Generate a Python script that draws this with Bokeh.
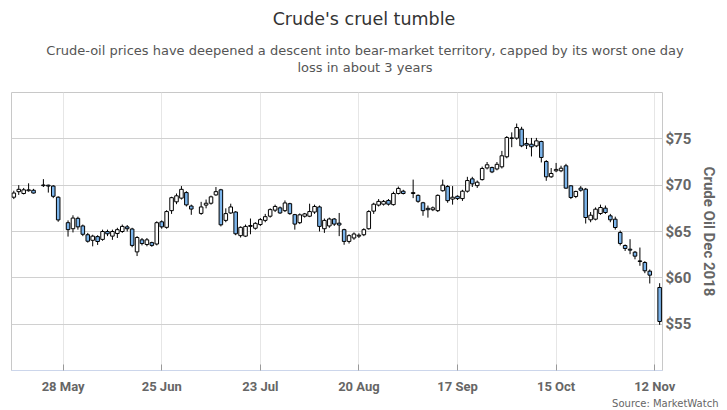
import numpy as np
from bokeh.plotting import figure
from bokeh.layouts import column
from bokeh.models import ColumnDataSource, Range1d, FixedTicker, NumeralTickFormatter
from bokeh.core.properties import value
from bokeh.embed import file_html
from bokeh.resources import INLINE

dates = ["2018-05-14", "2018-05-15", "2018-05-16", "2018-05-17", "2018-05-18",
         "2018-05-22", "2018-05-23", "2018-05-24", "2018-05-25",
         "2018-05-29", "2018-05-30", "2018-05-31", "2018-06-01",
         "2018-06-04", "2018-06-05", "2018-06-06", "2018-06-07", "2018-06-08",
         "2018-06-11", "2018-06-12", "2018-06-13", "2018-06-14", "2018-06-15",
         "2018-06-18", "2018-06-19", "2018-06-20", "2018-06-21", "2018-06-22",
         "2018-06-25", "2018-06-26", "2018-06-27", "2018-06-28", "2018-06-29",
         "2018-07-02", "2018-07-03", "2018-07-05", "2018-07-06",
         "2018-07-09", "2018-07-10", "2018-07-11", "2018-07-12", "2018-07-13",
         "2018-07-16", "2018-07-17", "2018-07-18", "2018-07-19", "2018-07-20",
         "2018-07-23", "2018-07-24", "2018-07-25", "2018-07-26", "2018-07-27",
         "2018-07-30", "2018-07-31", "2018-08-01", "2018-08-02", "2018-08-03",
         "2018-08-06", "2018-08-07", "2018-08-08", "2018-08-09", "2018-08-10",
         "2018-08-13", "2018-08-14", "2018-08-15", "2018-08-16", "2018-08-17",
         "2018-08-20", "2018-08-21", "2018-08-22", "2018-08-23", "2018-08-24",
         "2018-08-27", "2018-08-28", "2018-08-29", "2018-08-30", "2018-08-31",
         "2018-09-04", "2018-09-05", "2018-09-06", "2018-09-07",
         "2018-09-10", "2018-09-11", "2018-09-12", "2018-09-13", "2018-09-14",
         "2018-09-17", "2018-09-18", "2018-09-19", "2018-09-20", "2018-09-21",
         "2018-09-24", "2018-09-25", "2018-09-26", "2018-09-27", "2018-09-28",
         "2018-10-01", "2018-10-02", "2018-10-03", "2018-10-04", "2018-10-05",
         "2018-10-08", "2018-10-09", "2018-10-10", "2018-10-11", "2018-10-12",
         "2018-10-15", "2018-10-16", "2018-10-17", "2018-10-18", "2018-10-19",
         "2018-10-22", "2018-10-23", "2018-10-24", "2018-10-25", "2018-10-26",
         "2018-10-29", "2018-10-30", "2018-10-31", "2018-11-01", "2018-11-02",
         "2018-11-05", "2018-11-06", "2018-11-07", "2018-11-08", "2018-11-09",
         "2018-11-13"]

opens = [68.7, 69.3, 69.1, 69.4, 69.45,
         69.95, 70.0, 69.9, 68.7,
         65.95, 65.3, 66.42, 65.6,
         64.65, 64.05, 64.45, 64.15, 65.0,
         64.5, 64.78, 65.0, 65.5, 65.27,
         62.8, 64.1, 63.6, 63.8, 63.65,
         66.05, 65.45, 67.25, 68.2, 68.6,
         69.2, 67.75, 66.95, 67.85,
         68.05, 68.95, 69.5, 66.2, 67.0,
         67.1, 64.55, 64.5, 65.55, 65.35,
         65.75, 66.2, 66.65, 67.3, 67.55,
         67.25, 68.0, 66.82, 65.95, 66.65,
         66.65, 67.1, 67.65, 65.3, 65.6,
         66.35, 65.9, 65.2, 63.93, 64.3,
         64.5, 64.65, 65.3, 67.2, 67.85,
         67.95, 68.35, 67.9, 69.1, 69.35,
         69.1, 68.9, 68.1, 67.5,
         67.35, 67.25, 69.4, 69.85, 68.5,
         68.8, 68.55, 69.35, 70.68, 69.95,
         70.6, 71.86, 71.9, 71.75, 71.98,
         73.06, 75.05, 75.07, 76.04, 74.5,
         74.42, 74.24, 74.71, 72.55, 70.9,
         71.55, 71.55, 72.09, 69.93, 68.78,
         69.68, 69.57, 66.26, 66.33, 66.94,
         67.52, 66.69, 66.33, 64.89, 63.49,
         63.09, 62.77, 61.83, 61.65, 60.72,
         58.96]

highs = [69.4, 70.0, 69.7, 70.2, 69.6,
         70.65, 70.05, 70.0, 68.8,
         66.2, 66.75, 66.6, 65.75,
         64.85, 64.65, 64.6, 65.2, 65.2,
         65.2, 65.4, 65.75, 65.7, 65.4,
         64.5, 64.3, 64.3, 63.9, 66.1,
         66.2, 67.3, 68.75, 69.1, 69.9,
         69.35, 67.9, 68.2, 68.45,
         68.87, 69.8, 69.6, 67.5, 68.0,
         67.2, 65.55, 65.75, 66.4, 66.0,
         66.45, 66.9, 67.5, 67.9, 67.7,
         68.35, 68.1, 66.9, 66.95, 67.0,
         68.0, 67.9, 67.8, 66.4, 66.5,
         66.45, 67.0, 65.3, 64.7, 64.9,
         64.8, 65.35, 67.3, 68.1, 68.5,
         68.4, 68.5, 69.3, 69.85, 69.5,
         70.6, 69.0, 68.2, 67.8,
         67.7, 69.0, 70.6, 70.0, 69.9,
         68.9, 69.5, 70.9, 70.9, 70.5,
         72.0, 72.5, 72.0, 72.5, 73.7,
         75.3, 75.7, 76.65, 76.3, 75.1,
         75.1, 75.1, 74.8, 72.7, 71.85,
         72.4, 72.1, 72.3, 70.0, 69.4,
         69.9, 69.7, 67.1, 67.6, 67.9,
         67.8, 66.9, 66.6, 65.1, 63.6,
         64.17, 62.9, 63.27, 61.8, 60.9,
         59.42]

lows = [68.5, 68.95, 69.0, 69.3, 69.1,
        69.8, 69.2, 68.6, 66.05,
        64.45, 64.9, 65.2, 64.5,
        63.8, 63.4, 63.55, 64.0, 64.5,
        64.1, 64.3, 64.85, 65.0, 63.3,
        62.35, 63.5, 63.4, 63.35, 63.5,
        65.3, 65.3, 66.9, 67.95, 68.45,
        67.7, 66.8, 66.8, 67.5,
        67.9, 68.85, 65.55, 66.0, 66.9,
        64.6, 64.35, 64.4, 64.7, 65.2,
        65.6, 66.0, 66.5, 67.1, 66.9,
        67.1, 66.8, 65.2, 65.8, 66.5,
        66.55, 66.9, 65.0, 64.85, 65.4,
        65.6, 64.5, 63.57, 63.7, 64.1,
        64.3, 64.5, 65.2, 66.9, 67.7,
        67.8, 67.8, 67.8, 69.0, 69.0,
        68.6, 68.1, 66.7, 66.5,
        67.2, 67.1, 69.3, 68.1, 67.9,
        68.4, 68.3, 69.2, 69.8, 69.7,
        70.5, 71.7, 71.3, 71.6, 71.8,
        72.9, 74.1, 74.9, 74.1, 73.9,
        73.1, 74.1, 72.45, 70.47, 70.8,
        71.4, 71.4, 69.6, 68.5, 68.6,
        69.3, 65.86, 66.0, 66.2, 66.8,
        66.9, 66.0, 65.2, 63.5, 62.9,
        62.55, 62.0, 61.3, 60.5, 59.39,
        54.93]

closes = [69.15, 69.55, 69.5, 69.5, 69.15,
          70.02, 69.9, 68.8, 66.25,
          65.2, 66.45, 65.5, 64.7,
          63.95, 64.5, 63.92, 65.0, 64.75,
          65.0, 65.2, 65.55, 65.3, 63.5,
          64.35, 63.7, 64.1, 63.5, 65.95,
          65.5, 67.15, 68.65, 68.85, 69.55,
          67.87, 67.42, 67.65, 68.05,
          68.74, 69.3, 65.72, 66.93, 67.65,
          64.75, 65.45, 65.55, 65.65, 65.88,
          66.28, 66.6, 67.36, 67.7, 67.0,
          68.08, 66.93, 65.8, 66.8, 66.9,
          67.15, 67.7, 65.55, 66.2, 66.35,
          65.8, 65.7, 63.93, 64.55, 64.73,
          64.6, 65.2, 67.15, 67.95, 68.25,
          68.25, 67.95, 69.1, 69.65, 69.1,
          69.2, 68.26, 67.25, 67.35,
          67.55, 68.9, 70.0, 68.33, 68.7,
          68.55, 69.35, 70.5, 70.14, 70.32,
          71.8, 72.2, 71.43, 72.25, 73.17,
          75.14, 75.1, 76.22, 74.24, 74.32,
          74.14, 74.78, 72.99, 70.9, 71.26,
          71.7, 71.83, 69.68, 68.67, 69.32,
          69.46, 66.51, 66.76, 67.41, 67.59,
          67.05, 66.26, 65.43, 63.71, 63.17,
          62.99, 62.34, 61.76, 60.76, 60.29,
          55.29]

tick_dates = ["2018-05-28", "2018-06-25", "2018-07-23", "2018-08-20",
              "2018-09-17", "2018-10-15", "2018-11-12"]
tick_labels = ["28 May", "25 Jun", "23 Jul", "20 Aug", "17 Sep", "15 Oct", "12 Nov"]
price_ticks = [55, 60, 65, 70, 75]

title_text = "Crude's cruel tumble"
subtitle_lines = ["Crude-oil prices have deepened a descent into bear-market territory, capped by its worst one day",
                  "loss in about 3 years"]
source_text = "Source: MarketWatch"

# ordinal (weekday) positions, like a stock chart without weekend gaps
base = tick_dates[0]
slots = np.busday_count(base, np.array(dates, dtype="datetime64[D]"))
tick_slots = np.busday_count(base, np.array(tick_dates, dtype="datetime64[D]"))

o = np.array(opens)
c = np.array(closes)
up = c >= o
src = ColumnDataSource(dict(
    x=slots.astype(float),
    top=np.maximum(o, c),
    bottom=np.minimum(o, c),
    high=np.array(highs),
    low=np.array(lows),
    color=np.where(up, "#ffffff", "#7cb5ec"),
))


def text_strip(w, h):
    f = figure(width=w, height=h, x_range=Range1d(0, w), y_range=Range1d(0, h),
               output_backend="svg", toolbar_location=None,
               x_axis_location=None, y_axis_location=None,
               min_border_left=0, min_border_right=0, min_border_top=0, min_border_bottom=0,
               outline_line_color=None, background_fill_color="white",
               border_fill_color="white", frame_align=False)
    f.xgrid.visible = False
    f.ygrid.visible = False
    return f


# header: title and subtitle
head = text_strip(720, 90)
head.text(x=[363.5], y=[72], text=[title_text], text_align="center", text_baseline="middle",
          text_font=value("DejaVu Sans"), text_font_size="17.5px", text_color="#333333")
head.text(x=[364.5, 364.5], y=[40, 23], text=subtitle_lines, text_align="center",
          text_baseline="middle", text_font=value("DejaVu Sans"), text_font_size="13px",
          text_color="#555555")

FW, FH = 651, 278
p = figure(frame_width=FW, frame_height=FH,
           x_range=Range1d(slots[0] - 0.47, slots[-1] + 0.58),
           y_range=Range1d(50, 80),
           y_axis_location="right",
           output_backend="svg", toolbar_location=None,
           min_border_left=11, min_border_right=50,
           min_border_top=2, min_border_bottom=24,
           background_fill_color="white", border_fill_color="white",
           frame_align=False)

p.segment(x0="x", y0="high", x1="x", y1="low", line_color="#000000",
          line_width=1, source=src)
p.vbar(x="x", width=0.72, top="top", bottom="bottom", fill_color="color",
       line_color="#000000", line_width=1, source=src)

# x axis
xa = p.xaxis[0]
xa.ticker = FixedTicker(ticks=[float(t) for t in tick_slots])
xa.major_label_overrides = {float(t): lab for t, lab in zip(tick_slots, tick_labels)}
xa.axis_line_color = "#ccd6eb"
xa.major_tick_line_color = "#999999"
xa.major_tick_in = 6
xa.major_tick_out = 0
xa.minor_tick_line_color = None
xa.major_label_text_font = "Roboto"
xa.major_label_text_font_style = "bold"
xa.major_label_text_font_size = "13px"
xa.major_label_text_color = "#666666"
xa.major_label_standoff = 8

# y axis (right)
ya = p.yaxis[0]
ya.ticker = FixedTicker(ticks=price_ticks)
ya.formatter = NumeralTickFormatter(format="$0")
ya.axis_line_color = None
ya.major_tick_line_color = None
ya.major_tick_in = 0
ya.major_tick_out = 0
ya.minor_tick_line_color = None
ya.minor_tick_out = 0
ya.minor_tick_in = 0
ya.major_label_text_font = "Roboto"
ya.major_label_text_font_style = "bold"
ya.major_label_text_font_size = "15px"
ya.major_label_text_color = "#666666"
ya.major_label_standoff = 3
ya.axis_label = "Crude Oil Dec 2018"
ya.axis_label_text_font = "Roboto"
ya.axis_label_text_font_style = "bold"
ya.axis_label_text_font_size = "15px"
ya.axis_label_text_color = "#666666"
ya.axis_label_standoff = 6

p.ygrid.ticker = FixedTicker(ticks=price_ticks)
p.ygrid.grid_line_color = "#d0d0d0"
p.xgrid.ticker = FixedTicker(ticks=[float(t) for t in tick_slots])
p.xgrid.grid_line_color = "#e6e6e6"
p.outline_line_color = "#c8c8c8"

# footer: source note
foot = text_strip(720, 16)
foot.text(x=[718], y=[9], text=[source_text], text_align="right", text_baseline="middle",
          text_font=value("DejaVu Sans"), text_font_size="10px", text_color="#666666")

layout = column(head, p, foot, spacing=0)
open("out.html", "w").write(file_html(layout, INLINE))
